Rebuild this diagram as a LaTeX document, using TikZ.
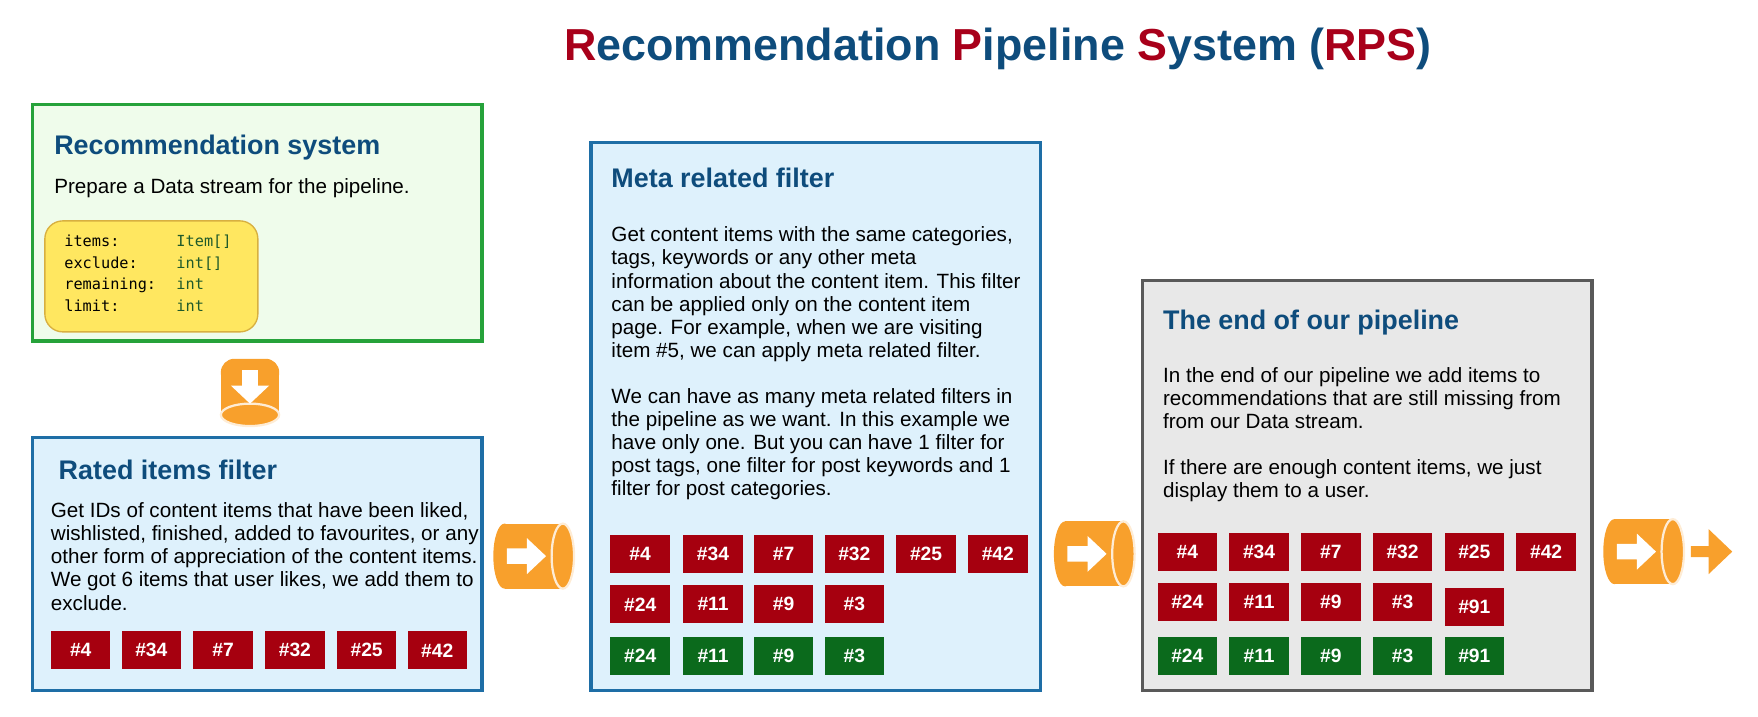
\documentclass[tikz,border=0pt]{standalone}
\usepackage{fontspec}
\setmainfont{Liberation Sans}
\newfontfamily\codefont{DejaVu Sans Mono}
\definecolor{ttl}{HTML}{0E4C7C}
\definecolor{rred}{HTML}{A8001A}
\definecolor{gbord}{HTML}{26A23A}
\definecolor{gfill}{HTML}{EFFCEB}
\definecolor{bbord}{HTML}{1E6EA6}
\definecolor{bfill}{HTML}{DEF1FC}
\definecolor{kbord}{HTML}{595959}
\definecolor{kfill}{HTML}{E8E8E8}
\definecolor{tagred}{HTML}{A6000F}
\definecolor{taggreen}{HTML}{0B6A1C}
\definecolor{orng}{HTML}{F8A02C}
\definecolor{ylw}{HTML}{FFE760}
\definecolor{ylwb}{HTML}{D8B040}
\definecolor{codeg}{HTML}{1F5A2A}
\newcommand\hcyl[2]{%
  \fill[orng] (#1+10,#2) rectangle (#1+62,#2+58);
  \fill[orng] (#1+10,#2+29) ellipse [x radius=5pt, y radius=14.5pt];
  \filldraw[orng, draw=white!80!orng, line width=1pt] (#1+62,#2+29) ellipse [x radius=5pt, y radius=14.5pt];
  \fill[white] (#1+12,#2+22) -- (#1+30,#2+22) -- (#1+30,#2+13) -- (#1+47,#2+29) -- (#1+30,#2+45) -- (#1+30,#2+36) -- (#1+12,#2+36) -- cycle;}
\tikzset{
  box/.style={line width=1.5pt, anchor=north west, inner sep=0},
  hd/.style={anchor=north west, text=ttl, font=\bfseries\fontsize{12}{14}\selectfont, inner sep=0},
  body/.style={anchor=north west, align=left, font=\fontsize{9.2}{10.3}\selectfont, inner sep=0},
  tag/.style={fill=tagred, text=white, font=\bfseries\fontsize{8.6}{9}\selectfont, minimum width=26.5pt, minimum height=17pt, inner sep=0},
  gtag/.style={tag, fill=taggreen},
}
\begin{document}
\begin{tikzpicture}[x=0.5pt,y=-0.5pt]
\useasboundingbox (0,0) rectangle (1568,639);
% title
\node[font=\bfseries\fontsize{20}{22}\selectfont, text=ttl] (title) at (890,44)
 {\textcolor{rred}{R}ecommendation \textcolor{rred}{P}ipeline \textcolor{rred}{S}ystem (\textcolor{rred}{RPS})};
% box 1
\draw[box, draw=gbord, fill=gfill] (29,93) rectangle (430,304);
\node[hd] (h1) at (48,120) {Recommendation system};
\node[body] (t1) at (48,159) {Prepare a Data stream for the pipeline.};
\draw[draw=ylwb, fill=ylw, rounded corners=8pt, line width=0.6pt] (40,197) rectangle (230,296);
\node[anchor=north west, inner sep=0, align=left, font=\codefont\fontsize{6.8}{9.7}\selectfont] (code) at (57,209)
 {items:\\exclude:\\remaining:\\limit:};
\node[anchor=north west, inner sep=0, align=left, font=\codefont\fontsize{6.8}{9.7}\selectfont, text=codeg] (code2) at (157,209)
 {Item[]\\int[]\\int\\int};
% down cylinder
\fill[orng] (197,330) rectangle (249,372);
\fill[orng, rounded corners=6pt] (197,320) rectangle (249,345);
\filldraw[orng, draw=white!80!orng, line width=1pt] (223,370) ellipse [x radius=13pt, y radius=5pt];
\fill[white] (216,330) -- (230,330) -- (230,344) -- (240,344) -- (223,360) -- (206,344) -- (216,344) -- cycle;
% box 2
\draw[box, draw=bbord, fill=bfill] (29,390) rectangle (430,616);
\node[hd] (h2) at (52,410) {Rated items filter};
\node[body] (t2) at (45,448) {Get IDs of content items that have been liked,\\wishlisted, finished, added to favourites, or any\\other form of appreciation of the content items.\\We got 6 items that user likes, we add them to\\exclude.};
\foreach \n/\x in {4/72,34/135,7/199,32/263,25/327,42/390}
  \node[tag] (a\n) at (\x,580) {\#\n};
\hcyl{440}{467}
% box 3
\draw[box, draw=bbord, fill=bfill] (527,127) rectangle (928,616);
\node[hd] (h3) at (545,149) {Meta related filter};
\node[body] (t3) at (545,202) {Get content items with the same categories,\\tags, keywords or any other meta\\information about the content item. This filter\\can be applied only on the content item\\page. For example, when we are visiting\\item \#5, we can apply meta related filter.\\[10.3pt]We can have as many meta related filters in\\the pipeline as we want. In this example we\\have only one. But you can have 1 filter for\\post tags, one filter for post keywords and 1\\filter for post categories.};
\foreach \n/\x in {4/571,34/636,7/699,32/762,25/826,42/890}
  \node[tag] (b\n) at (\x,494) {\#\n};
\foreach \n/\x in {24/571,11/636,9/699,3/762}
  \node[tag] (c\n) at (\x,539) {\#\n};
\foreach \n/\x in {24/571,11/636,9/699,3/762}
  \node[gtag] (d\n) at (\x,585) {\#\n};
\hcyl{940}{465}
% box 4
\draw[box, draw=kbord, fill=kfill] (1019,250) rectangle (1420,616);
\node[hd] (h4) at (1037,276) {The end of our pipeline};
\node[body] (t4) at (1037,327) {In the end of our pipeline we add items to\\recommendations that are still missing from\\from our Data stream.\\[10.3pt]If there are enough content items, we just\\display them to a user.};
\foreach \n/\x in {4/1059,34/1123,7/1187,32/1251,25/1315,42/1379}
  \node[tag] (e\n) at (\x,492) {\#\n};
\foreach \n/\x in {24/1059,11/1123,9/1187,3/1251}
  \node[tag] (f\n) at (\x,537) {\#\n};
\node[tag] (f91) at (1315,541) {\#91};
\foreach \n/\x in {24/1059,11/1123,9/1187,3/1251,91/1315}
  \node[gtag] (g\n) at (\x,585) {\#\n};
\hcyl{1430}{463}
\fill[orng] (1508,487) -- (1524,487) -- (1524,472) -- (1545,492) -- (1524,512) -- (1524,497) -- (1508,497) -- cycle;
\end{tikzpicture}
\end{document}
